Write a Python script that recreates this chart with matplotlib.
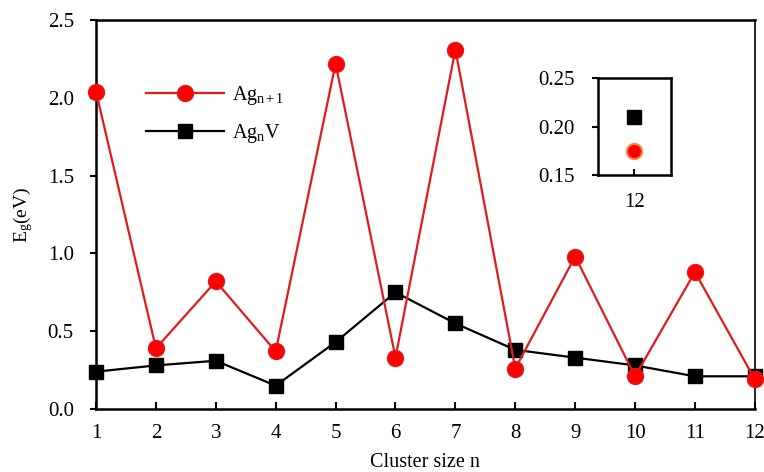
import matplotlib
matplotlib.use("Agg")
import matplotlib.pyplot as plt
from matplotlib.ticker import MultipleLocator, FormatStrFormatter

plt.rcParams['font.family'] = ['Liberation Serif', 'DejaVu Serif']
plt.rcParams['mathtext.fontset'] = 'custom'
plt.rcParams['mathtext.rm'] = 'Liberation Serif'
plt.rcParams['mathtext.it'] = 'Liberation Serif:italic'

n = [1, 2, 3, 4, 5, 6, 7, 8, 9, 10, 11, 12]
ag_n1 = [2.04, 0.39, 0.82, 0.37, 2.22, 0.33, 2.31, 0.26, 0.98, 0.21, 0.88, 0.19]
ag_nv = [0.24, 0.28, 0.31, 0.15, 0.43, 0.75, 0.55, 0.38, 0.33, 0.28, 0.21, 0.21]
inset_n = [12]
inset_ag_n1 = [0.175]
inset_ag_nv = [0.21]

red = '#e01b1b'
fig = plt.figure(figsize=(7.64, 4.72), dpi=100)
ax = fig.add_axes([0.1257, 0.1335, 0.988 - 0.1257, 0.9576 - 0.1335])

ax.plot(n, ag_n1, color=red, lw=1.6, marker='o', ms=11.5, mfc='#ff0000', mec=red,
        label=r'Ag$_{\mathrm{n+1}}$', clip_on=False, zorder=3)
ax.plot(n, ag_nv, color='black', lw=1.6, marker='s', ms=10.5, mfc='black', mec='black',
        label=r'Ag$_{\mathrm{n}}$V', clip_on=False, zorder=2)

ax.set_xlim(1, 12)
ax.set_ylim(0, 2.5)
ax.set_xticks(n)
ax.yaxis.set_major_locator(MultipleLocator(0.5))
ax.yaxis.set_major_formatter(FormatStrFormatter('%.1f'))
ax.tick_params(axis='x', direction='in', length=5, width=1.5, labelsize=15, pad=11)
ax.tick_params(axis='y', direction='out', length=4, width=1.5, labelsize=15, pad=12)
for s in ax.spines.values():
    s.set_linewidth(1.8)
ax.spines['right'].set_linewidth(1.2)
ax.set_xlabel('Cluster size n', fontsize=14.5, labelpad=7)
ax.set_ylabel(r'E$_{\mathrm{g}}$(eV)', fontsize=14, labelpad=9)

ax.legend(loc='upper left', bbox_to_anchor=(0.063, 0.857), frameon=False, fontsize=14.5,
          handlelength=3.9, labelspacing=0.75, handletextpad=0.4, borderaxespad=0)

axi = fig.add_axes([0.7827, 0.629, 0.0955, 0.2055])
axi.plot(inset_n, inset_ag_nv, marker='s', ms=10.5, color='black', ls='none')
axi.plot(inset_n, inset_ag_n1, marker='o', ms=11, color='#ff0000', mec='#f08a50', mew=1.5, ls='none')
axi.set_xlim(11.5, 12.5)
axi.set_ylim(0.15, 0.25)
axi.set_xticks(inset_n)
axi.set_yticks([0.15, 0.20, 0.25])
axi.yaxis.set_major_formatter(FormatStrFormatter('%.2f'))
axi.tick_params(axis='x', direction='in', length=4, width=1.5, labelsize=15, pad=13)
axi.tick_params(axis='y', direction='out', length=4, width=1.5, labelsize=15, pad=13)
for s in axi.spines.values():
    s.set_linewidth(1.8)

fig.savefig('out.png', dpi=100)
